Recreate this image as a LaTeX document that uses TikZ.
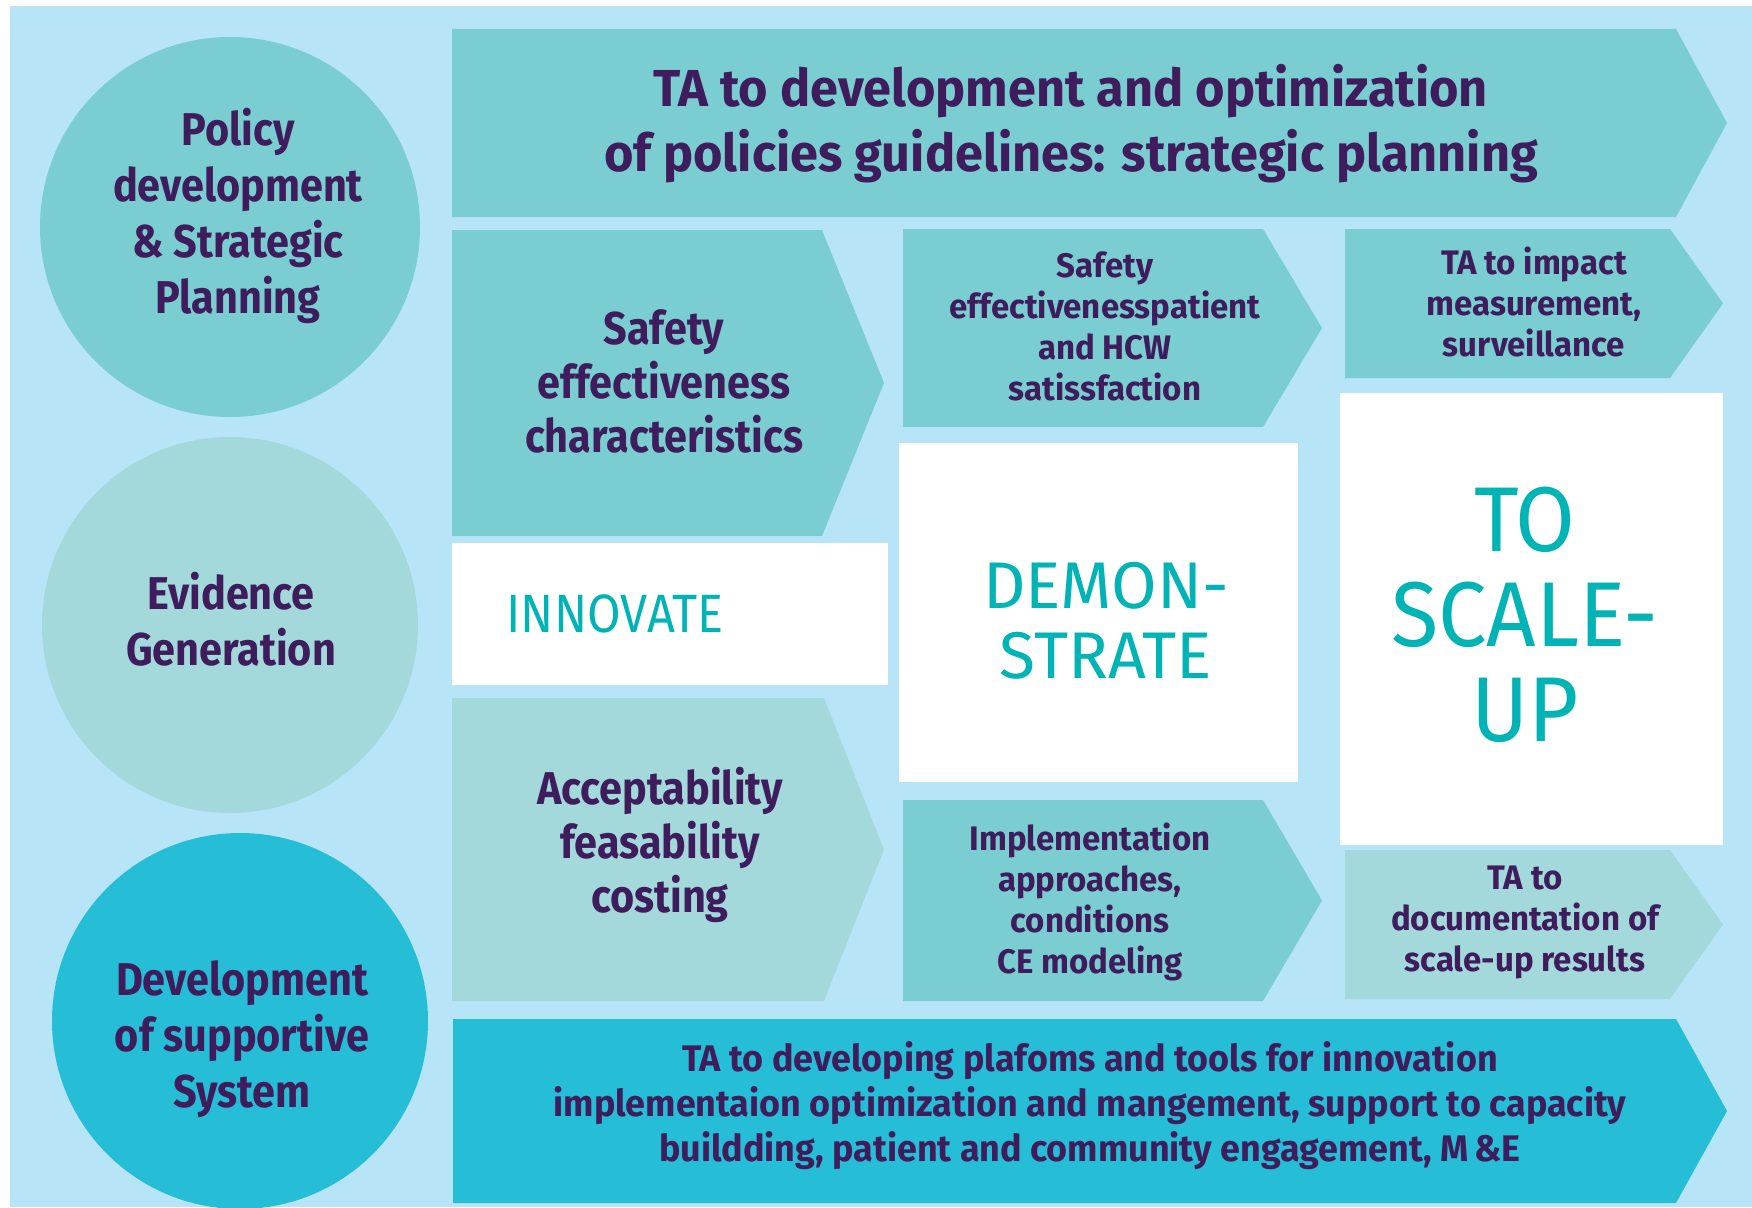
\documentclass[tikz,border=0pt]{standalone}
\usepackage{fontspec}
\setmainfont{Fira Sans}[FakeStretch=0.90]
\newfontfamily\widefam{Fira Sans}[FakeStretch=0.97]
\newfontfamily\demofam{Fira Sans}[FakeStretch=1.0]
\newfontfamily\scalefam{Fira Sans}[FakeStretch=0.94]
\usetikzlibrary{positioning}

\definecolor{bgblue}{HTML}{B8E4F8}
\definecolor{tealbox}{HTML}{7ACDD0}
\definecolor{paletea}{HTML}{A3D9DB}
\definecolor{cyanbox}{HTML}{25BED6}
\definecolor{inkpurple}{HTML}{3F1D5C}
\definecolor{titleteal}{HTML}{00B3B5}

\newcommand{\fsBig}{\widefam\fontsize{52}{65}\selectfont\bfseries}
\newcommand{\fsCirc}{\fontsize{46}{56}\selectfont\bfseries}
\newcommand{\fsMid}{\fontsize{46}{54}\selectfont\bfseries}
\newcommand{\fsSmall}{\widefam\fontsize{34}{41}\selectfont\bfseries}
\newcommand{\fsLow}{\widefam\fontsize{37}{45}\selectfont\bfseries}

% left, top, right, tip, bottom, colour
\newcommand{\chevbox}[6]{%
  \fill[#6] (#1,#2) -- (#3,#2) -- (#4,{(#2+#5)/2}) -- (#3,#5) -- (#1,#5) -- cycle;}

\tikzset{
  lbl/.style={text=inkpurple, align=center, inner sep=0pt},
  ttl/.style={text=titleteal, align=center, inner sep=0pt},
}

\begin{document}
\begin{tikzpicture}[x=1pt,y=-1pt]
\useasboundingbox (0,0) rectangle (1752,1207);
\fill[bgblue] (10,6) rectangle (1752,1207);

% circles on the left
\begin{scope}
\clip (10,6) rectangle (1752,1207);
\fill[tealbox] (230,227) circle[radius=190];
\fill[paletea] (230,625) circle[radius=188];
\fill[cyanbox] (240,1021) circle[radius=188];
\end{scope}

% arrow boxes
\chevbox{452}{29}{1676}{1727}{217}{tealbox}
\chevbox{452}{230}{822}{884}{536}{tealbox}
\chevbox{452}{698}{824}{884}{1001}{paletea}
\chevbox{903}{229}{1263}{1322}{427}{tealbox}
\chevbox{903}{800}{1263}{1322}{1001}{tealbox}
\chevbox{1345}{229}{1670}{1723}{378}{tealbox}
\chevbox{1345}{850}{1670}{1723}{999}{paletea}
\chevbox{453}{1019}{1676}{1727}{1203}{cyanbox}

% white boxes
\fill[white] (452,543) rectangle (888,685);
\fill[white] (899,443) rectangle (1298,782);
\fill[white] (1340,393) rectangle (1723,845);

% texts
\node[lbl, font=\fsCirc] (policy) at (238,216) {Policy\\development\\\& Strategic\\Planning};
\node[lbl, font=\fsCirc] (evidence) at (231,619) {Evidence\\Generation};
\node[lbl, font=\fsCirc] (support) at (242,1039) {Development\\of supportive\\System};

\node[lbl, font=\fsBig] (strategy) at (1071,124) {TA to development and optimization\\of policies guidelines: strategic planning};
\node[lbl, font=\fsMid] (safety) at (664,381) {Safety\\effectiveness\\characteristics};
\node[lbl, font=\fsMid] (accept) at (660,845) {Acceptability\\feasability\\costing};
\node[lbl, font=\fsSmall] (patient) at (1105,326) {Safety\\effectivenesspatient\\and HCW\\satissfaction};
\node[lbl, font=\fsSmall] (implement) at (1090,902) {Implementation\\approaches,\\conditions\\CE modeling};
\node[lbl, font=\fsSmall] (impact) at (1534,302) {TA to impact\\measurement,\\surveillance};
\node[lbl, font=\fsSmall] (document) at (1525,922) {TA to\\documentation of\\scale-up results};
\node[lbl, font=\fsLow] (platform) at (1090,1106) {TA to developing plafoms and tools for innovation\\implementaion optimization and mangement, support to capacity\\buildding, patient and community engagement, M\,\&E};

\node[ttl, font=\fontsize{54}{60}\selectfont] (innovate) at (615,614) {INNOVATE};
\node[ttl, font=\demofam\fontsize{66}{70}\selectfont] (demonstrate) at (1106,621) {DEMON-\\STRATE};
\node[ttl, font=\scalefam\fontsize{92}{95}\selectfont] (scaleup) at (1525,615) {TO\\SCALE-\\UP};
\end{tikzpicture}
\end{document}
